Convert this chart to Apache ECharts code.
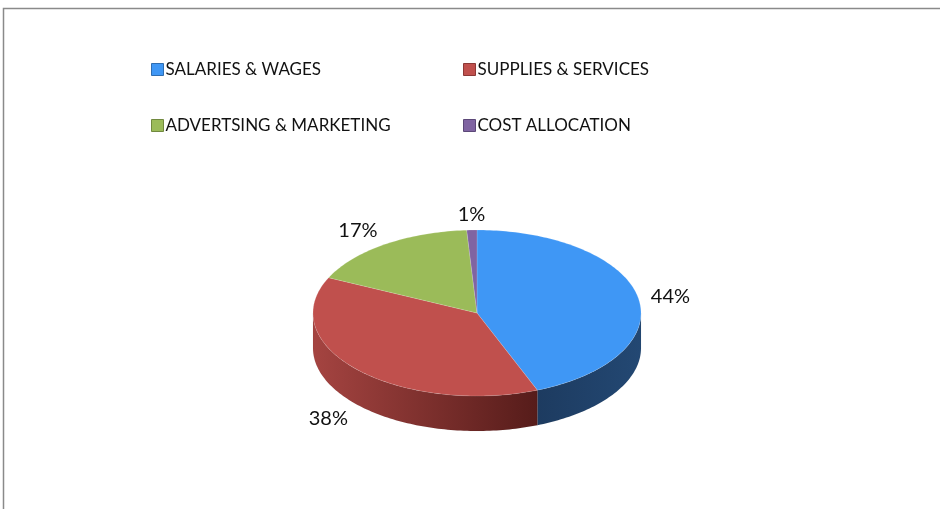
<!DOCTYPE html>
<html>
<head>
<meta charset="utf-8">
<script src="https://cdn.jsdelivr.net/npm/echarts@6/dist/echarts.min.js"></script>
<style>
  html, body { margin: 0; padding: 0; background: #fff; }
  #main { width: 940px; height: 509px; }
</style>
</head>
<body>
<div id="main"></div>
<script>
// 数据
const categories = ['SALARIES & WAGES', 'SUPPLIES & SERVICES', 'ADVERTSING & MARKETING', 'COST ALLOCATION'];
const values = [44, 38, 17, 1];
const topColors = ['#3f97f5', '#c0504d', '#9bbb59', '#8064a2'];
const sideColors = [['#1d3b60', '#234873'], ['#a54441', '#561c1a'], ['#7d9a44', '#5a7030'], ['#634c80', '#4a3862']];
const legendBorders = ['#2f6db0', '#8c3836', '#71893f', '#5c4878'];

const chart = echarts.init(document.getElementById('main'), null, { renderer: 'canvas' });

// 饼图几何
const cx = 477, cy = 313, rx = 164, ry = 83, depth = 35;
const total = values.reduce((a, b) => a + b, 0);
const cum = [0];
values.forEach((v, i) => cum.push(cum[i] + v));

function pt(t, dy) {
  return [cx + rx * Math.sin(t), cy - ry * Math.cos(t) + (dy || 0)];
}
function arc(a, b, dy) {
  const n = Math.max(2, Math.ceil((b - a) / 0.02));
  const pts = [];
  for (let k = 0; k <= n; k++) pts.push(pt(a + (b - a) * k / n, dy));
  return pts;
}

function makeRender(i) {
  return function (params, api) {
    const a = cum[i] / total * Math.PI * 2;
    const b = cum[i + 1] / total * Math.PI * 2;
    const children = [];
    // 侧面 (正面可见部分)
    const s = Math.max(a, Math.PI / 2), e = Math.min(b, Math.PI * 1.5);
    if (e > s) {
      const top = arc(s, e, 0);
      const bottom = arc(s, e, depth).reverse();
      children.push({
        type: 'polygon',
        shape: { points: top.concat(bottom) },
        style: {
          fill: new echarts.graphic.LinearGradient(0, 0, 1, 0, [
            { offset: 0, color: sideColors[i][0] },
            { offset: 1, color: sideColors[i][1] }
          ]),
          stroke: 'rgba(0,0,0,0.08)',
          lineWidth: 0.5
        }
      });
    }
    // 顶面
    children.push({
      type: 'polygon',
      shape: { points: [[cx, cy]].concat(arc(a, b, 0)) },
      style: { fill: topColors[i], stroke: 'rgba(255,255,255,0.25)', lineWidth: 0.6 }
    });
    // 标签
    const m = (a + b) / 2;
    const sn = Math.sin(m), cs = Math.cos(m);
    const lx = cx + (rx + 13) * sn;
    const ly = cy - (ry + 5) * cs + (cs < 0 ? depth : 0);
    children.push({
      type: 'text',
      style: {
        text: Math.round(values[i] / total * 100) + '%',
        x: lx,
        y: ly,
        fill: '#111',
        font: '20px Lato, "Open Sans", sans-serif',
        align: Math.abs(sn) < 0.3 ? 'center' : (sn > 0 ? 'left' : 'right'),
        verticalAlign: cs > 0.3 ? 'bottom' : (cs < -0.3 ? 'top' : 'middle')
      }
    });
    return { type: 'group', children: children };
  };
}

const legendPos = [[151, 61], [463, 61], [151, 117], [463, 117]];

const option = {
  animation: false,
  backgroundColor: '#fff',
  graphic: [{
    type: 'rect',
    shape: { x: 3.5, y: 8.5, width: 1000, height: 600 },
    style: { fill: 'none', stroke: '#8a8a8a', lineWidth: 1.5 },
    silent: true
  }],
  legend: categories.map((c, i) => ({
    data: [{ name: c, itemStyle: { color: topColors[i], borderColor: legendBorders[i], borderWidth: 1 } }],
    left: legendPos[i][0],
    top: legendPos[i][1],
    icon: 'rect',
    itemWidth: 12,
    itemHeight: 12,
    itemGap: 0,
    padding: 0,
    selectedMode: false,
    textStyle: { fontFamily: 'Lato, "Open Sans", sans-serif', fontSize: 17, color: '#111', padding: [0, 0, 0, -3] }
  })),
  series: categories.map((c, i) => ({
    type: 'custom',
    name: c,
    coordinateSystem: 'none',
    itemStyle: { color: topColors[i] },
    data: [values[i]],
    renderItem: makeRender(i)
  }))
};

chart.setOption(option);
</script>
</body>
</html>
